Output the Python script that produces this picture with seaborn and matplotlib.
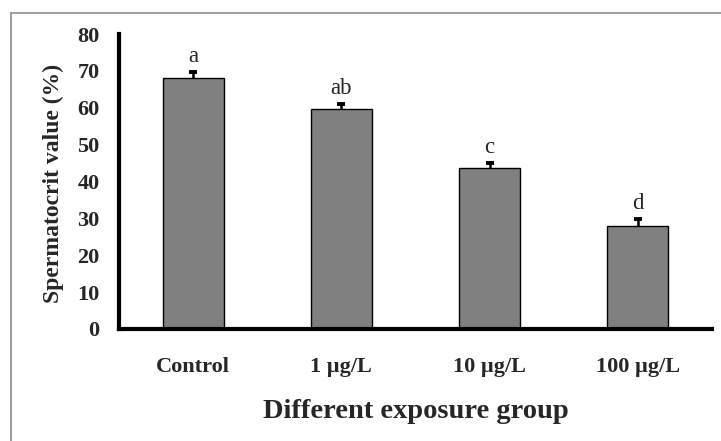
import matplotlib
matplotlib.use("Agg")
import matplotlib.pyplot as plt
import seaborn as sns
import pandas as pd
from matplotlib.patches import Rectangle

groups = ["Control", "1 \u00b5g/L", "10 \u00b5g/L", "100 \u00b5g/L"]
values = [68.2, 59.7, 43.6, 28.0]
errors = [1.5, 1.4, 1.4, 1.9]
letters = ["a", "ab", "c", "d"]
yticks = [0, 10, 20, 30, 40, 50, 60, 70, 80]

sns.set_theme(style="white")
plt.rcParams['font.family'] = ['Liberation Serif', 'DejaVu Serif']

df = pd.DataFrame({"group": groups, "value": values})

fig = plt.figure(figsize=(7.21, 4.41), dpi=100)
ax = fig.add_axes([119/721, 1-329/441, (712-119)/721, (329-34)/441])

sns.barplot(data=df, x="group", y="value", ax=ax, color="#808080",
            edgecolor="black", linewidth=1.0, width=0.41, errorbar=None,
            saturation=1)
for p in ax.patches:
    p.set_facecolor("#808080")
    p.set_zorder(2)

xs = list(range(len(groups)))
eb = ax.errorbar(xs, values, yerr=[[0]*len(values), errors], fmt="none",
                 ecolor="black", elinewidth=1.8, capsize=3.2, capthick=2.8, zorder=3)
caplines = eb[1]
if len(caplines) >= 2:
    caplines[0].set_visible(False)

for x, v, e, l in zip(xs, values, errors, letters):
    ax.text(x, v + e + 2.7, l, ha="center", va="baseline", fontsize=16.5)

ax.set_ylim(0, 80)
ax.set_xlim(-0.5, len(groups) - 0.5)
ax.set_yticks(yticks)
ax.set_yticklabels([str(t) for t in yticks], fontsize=16, fontweight="bold")

ax.set_xticks(xs)
ax.set_xticklabels(groups, fontsize=16, fontweight="bold")
ax.tick_params(axis="x", which="major", length=0, pad=20)
ax.set_xticks([i - 0.5 for i in range(len(groups) + 1)], minor=True)
ax.tick_params(axis="x", which="minor", length=5, width=2.5, direction="out", color="black")
ax.tick_params(axis="y", which="major", length=5, width=2.5, direction="out", color="black", pad=9)

for s in ["top", "right"]:
    ax.spines[s].set_visible(False)
for s in ["left", "bottom"]:
    ax.spines[s].set_color("black")
    ax.spines[s].set_linewidth(3)

ax.set_xlabel("Different exposure group", fontsize=20.5, fontweight="bold", labelpad=16)
ax.set_ylabel("Spermatocrit value (%)", fontsize=17, fontweight="bold")
ax.yaxis.set_label_coords(-0.092, 0.495)

fig.patches.append(Rectangle((11/721, -0.1), 1.2, 1.1 - 13/441,
                             transform=fig.transFigure, fill=False,
                             edgecolor="#a0a0a0", linewidth=1.5, zorder=0))

fig.savefig("out.png", dpi=100)
